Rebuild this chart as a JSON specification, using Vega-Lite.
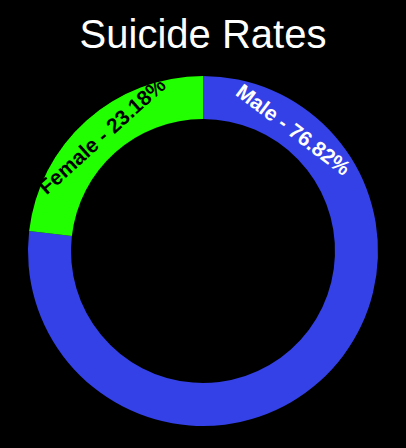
{
  "$schema": "https://vega.github.io/schema/vega-lite/v6.json",
  "autosize": {"type": "fit", "contains": "padding"},
  "width": 406,
  "height": 448,
  "padding": {"top": 16, "bottom": 10, "left": 5, "right": 5},
  "background": "black",
  "title": {"text": "Suicide Rates", "color": "white", "fontSize": 40, "font": "Liberation Sans", "fontWeight": "normal", "offset": 8},
  "data": {"values": [
    {"sex": "Male", "rate": 76.82},
    {"sex": "Female", "rate": 23.18}
  ]},
  "layer": [
    {
      "mark": {"type": "arc", "innerRadius": 132, "outerRadius": 175},
      "encoding": {
        "theta": {"field": "rate", "type": "quantitative", "stack": true},
        "order": {"field": "rate", "sort": "descending"},
        "color": {"field": "sex", "type": "nominal", "legend": null,
          "scale": {"domain": ["Male", "Female"], "range": ["#3341e6", "#22ff00"]}}
      }
    },
    {
      "transform": [{"filter": "datum.sex == 'Male'"}],
      "mark": {"type": "text", "font": "Liberation Sans", "fontSize": 21, "fontWeight": "bold", "color": "white", "angle": 37, "radius": 150, "theta": 0.64, "letterSpacing": -1.5},
      "encoding": {"text": {"value": "Male - 76.82%"}}
    },
    {
      "transform": [{"filter": "datum.sex == 'Female'"}],
      "mark": {"type": "text", "font": "Liberation Sans", "fontSize": 21, "fontWeight": "bold", "color": "black", "angle": 318, "radius": 152, "theta": -0.72, "letterSpacing": -1.5},
      "encoding": {"text": {"value": "Female - 23.18%"}}
    }
  ],
  "config": {"view": {"stroke": null}}
}
